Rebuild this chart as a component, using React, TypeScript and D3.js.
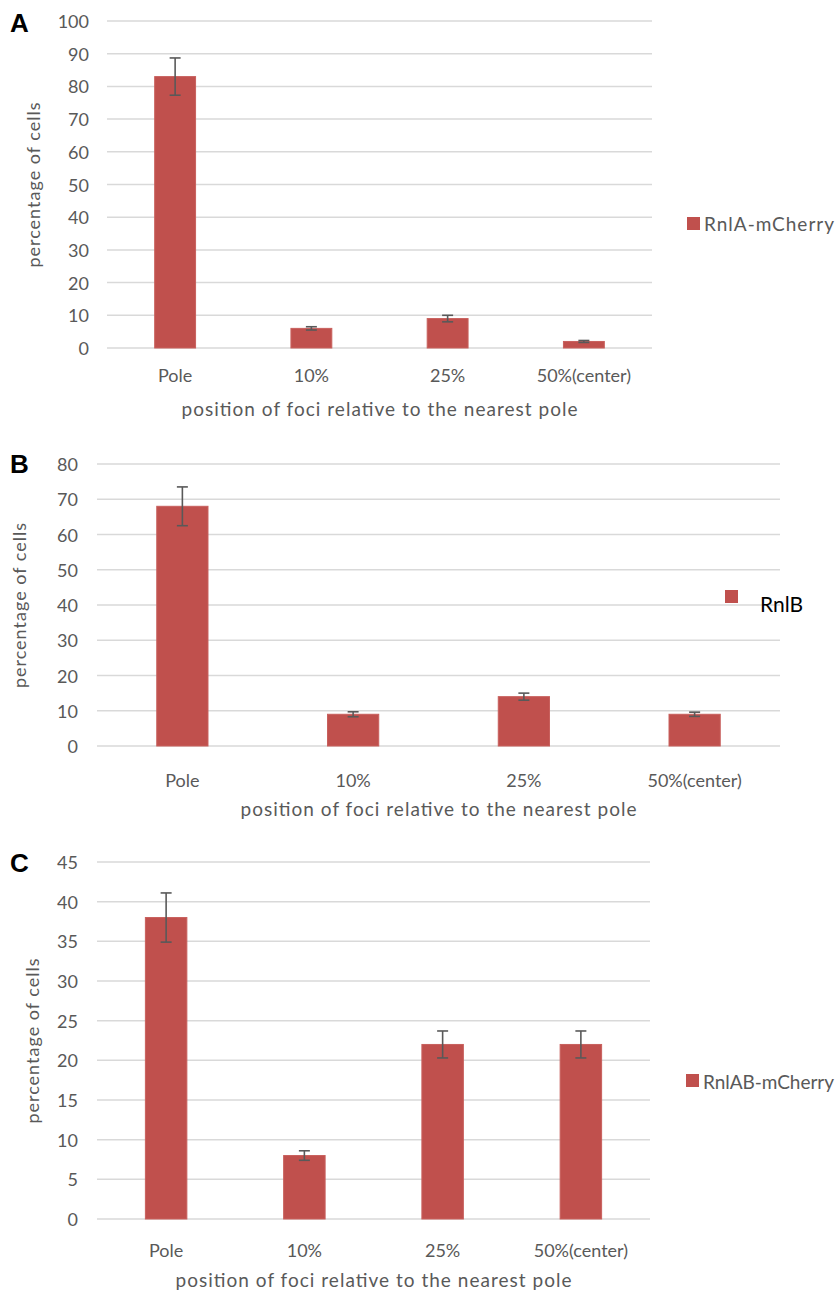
import React from "react";
import * as d3 from "d3";

// categories + values
const categories = ["Pole", "10%", "25%", "50%(center)"];

const rnlAValues = [83, 6, 9, 2];
const rnlAErrors = [5.7, 0.5, 1, 0.3];
const rnlATicks = [0, 10, 20, 30, 40, 50, 60, 70, 80, 90, 100];

const rnlBValues = [68, 9, 14, 9];
const rnlBErrors = [5.5, 0.7, 1, 0.6];
const rnlBTicks = [0, 10, 20, 30, 40, 50, 60, 70, 80];

const rnlABValues = [38, 8, 22, 22];
const rnlABErrors = [3.1, 0.6, 1.7, 1.7];
const rnlABTicks = [0, 5, 10, 15, 20, 25, 30, 35, 40, 45];

const xTitle = "position of foci relative to the nearest pole";
const yTitle = "percentage of cells";

const BAR = "#c0504d";
const GRID = "#d9d9d9";
const TEXT = "#595959";
const FONT = "Lato, 'Open Sans', sans-serif";

type PanelProps = {
  letter: string;
  letterY: number;
  values: number[];
  errors: number[];
  ticks: number[];
  series: string;
  left: number;
  right: number;
  top: number;
  bottom: number;
  tickRight: number;
  yTitleX: number;
  tickLabelDy: number;
  titleDy: number;
  legend: { x: number; y: number; textX: number; textY: number; size: number; color: string; len: number };
};

const Panel = (p: PanelProps) => {
  const x = d3.scaleBand().domain(categories).range([p.left, p.right]).paddingInner(0.7).paddingOuter(0.35);
  const y = d3
    .scaleLinear()
    .domain([0, p.ticks[p.ticks.length - 1]])
    .range([p.bottom, p.top]);
  const bw = x.bandwidth();
  const mid = (p.left + p.right) / 2;

  return (
    <g>
      <text x={10} y={p.letterY} fontFamily="'Liberation Sans', Arial, sans-serif" fontWeight="bold" fontSize={26} fill="#000">
        {p.letter}
      </text>

      {p.ticks.map((t) => (
        <g key={t}>
          <line x1={p.left} x2={p.right} y1={y(t)} y2={y(t)} stroke={GRID} strokeWidth={1.5} />
          <text x={p.tickRight} y={y(t)} textAnchor="end" dominantBaseline="central" fontFamily={FONT} fontSize={18} fill={TEXT}>
            {t}
          </text>
        </g>
      ))}

      {categories.map((c, i) => {
        const cx = x(c)! + bw / 2;
        const v = p.values[i];
        const e = p.errors[i];
        return (
          <g key={c}>
            <rect x={x(c)} y={y(v)} width={bw} height={y(0) - y(v)} fill={BAR} stroke="#c8605d" strokeWidth={1} />
            <line x1={cx} x2={cx} y1={y(v + e)} y2={y(v - e)} stroke={TEXT} strokeWidth={1.6} />
            <line x1={cx - 5.5} x2={cx + 5.5} y1={y(v + e)} y2={y(v + e)} stroke={TEXT} strokeWidth={1.6} />
            <line x1={cx - 5.5} x2={cx + 5.5} y1={y(v - e)} y2={y(v - e)} stroke={TEXT} strokeWidth={1.6} />
            <text x={cx} y={p.bottom + p.tickLabelDy} textAnchor="middle" dominantBaseline="central" fontFamily={FONT} fontSize={18} fill={TEXT}>
              {c}
            </text>
          </g>
        );
      })}

      <text
        x={mid}
        y={p.bottom + p.titleDy}
        textAnchor="middle"
        dominantBaseline="central"
        fontFamily={FONT}
        fontSize={19}
        fill={TEXT}
        textLength={396}
        lengthAdjust="spacing"
      >
        {xTitle}
      </text>

      <text
        transform={`translate(${p.yTitleX},${(p.top + p.bottom) / 2}) rotate(-90)`}
        textAnchor="middle"
        dominantBaseline="central"
        fontFamily={FONT}
        fontSize={18}
        fill={TEXT}
        letterSpacing={1}
      >
        {yTitle}
      </text>

      <rect x={p.legend.x} y={p.legend.y} width={13} height={13} fill={BAR} />
      <text
        x={p.legend.textX}
        y={p.legend.textY}
        dominantBaseline="central"
        fontFamily={FONT}
        fontSize={p.legend.size}
        fill={p.legend.color}
        textLength={p.legend.len}
        lengthAdjust="spacing"
      >
        {p.series}
      </text>
    </g>
  );
};

export default function App() {
  return (
    <svg width={838} height={1292} style={{ position: "absolute", left: 0, top: 0, background: "#fff" }}>
      <rect width={838} height={1292} fill="#fff" />
      <Panel
        letter="A"
        letterY={32}
        values={rnlAValues}
        errors={rnlAErrors}
        ticks={rnlATicks}
        series="RnlA-mCherry"
        left={107}
        right={652}
        top={21}
        bottom={348}
        tickRight={89}
        yTitleX={33}
        tickLabelDy={27}
        titleDy={60}
        legend={{ x: 687, y: 217, textX: 704, textY: 223, size: 19, color: TEXT, len: 130 }}
      />
      <Panel
        letter="B"
        letterY={473}
        values={rnlBValues}
        errors={rnlBErrors}
        ticks={rnlBTicks}
        series="RnlB"
        left={97}
        right={780}
        top={464}
        bottom={746}
        tickRight={78}
        yTitleX={19}
        tickLabelDy={34}
        titleDy={62}
        legend={{ x: 725, y: 590, textX: 760, textY: 603, size: 21, color: "#000", len: 43 }}
      />
      <Panel
        letter="C"
        letterY={872}
        values={rnlABValues}
        errors={rnlABErrors}
        ticks={rnlABTicks}
        series="RnlAB-mCherry"
        left={97}
        right={650}
        top={862}
        bottom={1219}
        tickRight={78}
        yTitleX={32}
        tickLabelDy={31}
        titleDy={60}
        legend={{ x: 686, y: 1074, textX: 703, textY: 1081, size: 19, color: TEXT, len: 131 }}
      />
    </svg>
  );
}
